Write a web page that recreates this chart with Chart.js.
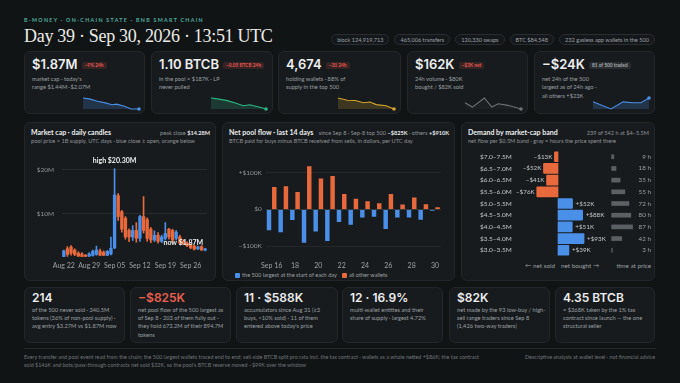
<!DOCTYPE html>
<html>
<head>
<meta charset="utf-8">
<script src="https://cdn.jsdelivr.net/npm/chart.js@4.4.1/dist/chart.umd.min.js"></script>
<style>
  body { margin: 0; background: #111415; font-family: Lato, sans-serif; color: #d9dcde; }
  #page { position: relative; width: 680px; height: 383px; overflow: hidden; }
  .abs { position: absolute; white-space: nowrap; }
  .box { position: absolute; background: #181b1d; border: 1px solid #23272a; border-radius: 6px; box-sizing: border-box; }
  .kicker { left: 24px; top: 17px; font: 700 5.3px/7px Lato; letter-spacing: 1.3px; color: #4fae9f; }
  .title { left: 24px; top: 26px; font: 18px/20px "Liberation Serif", serif; letter-spacing: -0.3px; color: #ecebe7; }
  .pills { right: 25px; top: 34px; display: flex; gap: 5px; }
  .pill { border: 1px solid #2a2e31; border-radius: 6px; font: 5.6px/9px Lato; color: #9aa0a4; padding: 0 5px; background: #15181a; }
  .kpi .v { position: absolute; left: 7px; top: 6px; font: 600 13px/13px Inter; color: #eceeef; white-space: nowrap; }
  .badge { display: inline-block; vertical-align: 2px; margin-left: 4px; font: 700 4.8px/7px Lato; padding: 0 3px; border-radius: 2px; color: #e2564f; background: rgba(226,86,79,0.15); }
  .badge.gray { color: #a3a8ac; background: #2a2e31; }
  .kpi .c, .bc .c { position: absolute; left: 7px; font: 5.7px/8.4px Lato; color: #9ba0a4; white-space: nowrap; }
  .kpi .c { top: 23px; }
  .bc .v { position: absolute; left: 7px; top: 4px; font: 600 12px/12px Inter; color: #eceeef; white-space: nowrap; }
  .bc .c { top: 18px; line-height: 8.2px; }
  .red { color: #e8604f !important; }
  .ptitle { position: absolute; left: 6px; top: 4.5px; font: 700 7px/9px Lato; color: #eceeef; white-space: nowrap; }
  .pright { position: absolute; right: 5px; top: 5px; font: 5.6px/9px Lato; color: #8f9498; white-space: nowrap; }
  .pright b { color: #e6e8ea; }
  .psub { position: absolute; left: 6px; top: 14px; font: 5.6px/8px Lato; color: #8f9498; white-space: nowrap; }
  canvas { position: absolute; }
  .leg { font: 5.6px/8px Lato; color: #9ba0a4; }
  .sw { display: inline-block; width: 5px; height: 5px; border-radius: 1px; margin-right: 2px; vertical-align: -0.5px; }
  .small { font: 6.3px/8px Lato; color: #9ba0a4; }
  .foot { font: 5.4px/8.4px Lato; color: #6f7478; }
</style>
</head>
<body>
<div id="page">
  <div class="abs kicker">B-MONEY · ON-CHAIN STATE · BNB SMART CHAIN</div>
  <div class="abs title">Day 39 · Sep 30, 2026 · 13:51 UTC</div>
  <div class="abs pills">
    <div class="pill">block 124,919,713</div>
    <div class="pill">465,006 transfers</div>
    <div class="pill">120,330 swaps</div>
    <div class="pill">BTC $84,548</div>
    <div class="pill">232 gasless app wallets in the 500</div>
  </div>

  <!-- KPI row -->
  <div class="box kpi" style="left:24px;top:51px;width:121px;height:63px">
    <div class="v">$1.87M<span class="badge">−9% 24h</span></div>
    <div class="c">market cap · today's<br>range $1.44M–$2.07M</div>
  </div>
  <div class="box kpi" style="left:151px;top:51px;width:122px;height:63px">
    <div class="v">1.10 BTCB<span class="badge">−0.05 BTCB 24h</span></div>
    <div class="c">in the pool ≈ $187K · LP<br>never pulled</div>
  </div>
  <div class="box kpi" style="left:278px;top:51px;width:123px;height:63px">
    <div class="v">4,674<span class="badge">−30 24h</span></div>
    <div class="c">holding wallets · 88% of<br>supply in the top 500</div>
  </div>
  <div class="box kpi" style="left:407px;top:51px;width:121px;height:63px">
    <div class="v">$162K<span class="badge">−$3K net</span></div>
    <div class="c">24h volume · $80K<br>bought / $82K sold</div>
  </div>
  <div class="box kpi" style="left:534px;top:51px;width:121px;height:63px">
    <div class="v">−$24K<span class="badge gray">81 of 500 traded</span></div>
    <div class="c">net 24h of the 500<br>largest as of 24h ago ·<br>all others +$23K</div>
  </div>

  <!-- middle panels -->
  <div class="box" style="left:24px;top:122px;width:192px;height:159px">
    <div class="ptitle">Market cap · daily candles</div>
    <div class="pright">peak close <b>$14.28M</b></div>
    <div class="psub">pool price × 1B supply, UTC days · blue close ≥ open, orange below</div>
  </div>
  <div class="box" style="left:222px;top:122px;width:233px;height:159px">
    <div class="ptitle">Net pool flow · last 14 days</div>
    <div class="pright">since Sep 8 · Sep-8 top 500 <b>−$825K</b> · others <b>+$910K</b></div>
    <div class="psub">BTCB paid for buys minus BTCB received from sells, in dollars, per UTC day</div>
    <div class="abs leg" style="left:12px;top:148px"><span class="sw" style="background:#4a8fe8"></span>the 500 largest at the start of each day</div>
    <div class="abs leg" style="left:119px;top:148px"><span class="sw" style="background:#e8693c"></span>all other wallets</div>
  </div>
  <div class="box" style="left:461px;top:122px;width:194px;height:159px">
    <div class="ptitle">Demand by market-cap band</div>
    <div class="pright">239 of 542 h at $4–5.5M</div>
    <div class="psub">net flow per $0.5M band · gray = hours the price spent there</div>
  </div>
  <div class="abs small" style="right:125px;top:261.5px">← net sold</div>
  <div class="abs small" style="left:561px;top:261.5px">net bought →</div>
  <div class="abs small" style="right:29px;top:261.5px">time at price</div>

  <!-- bottom cards -->
  <div class="box bc" style="left:24px;top:287px;width:101px;height:56px">
    <div class="v">214</div>
    <div class="c">of the 500 never sold · 340.5M<br>tokens (36% of non-pool supply) ·<br>avg entry $3.27M vs $1.87M now</div>
  </div>
  <div class="box bc" style="left:130px;top:287px;width:101px;height:56px">
    <div class="v red">−$825K</div>
    <div class="c">net pool flow of the 500 largest as<br>of Sep 8 · 203 of them fully out ·<br>they hold 673.2M of their 894.7M<br>tokens</div>
  </div>
  <div class="box bc" style="left:236px;top:287px;width:102px;height:56px">
    <div class="v">11 · $588K</div>
    <div class="c">accumulators since Aug 31 (≥3<br>buys, &lt;10% sold) · 11 of them<br>entered above today's price</div>
  </div>
  <div class="box bc" style="left:342px;top:287px;width:101px;height:56px">
    <div class="v">12 · 16.9%</div>
    <div class="c">multi-wallet entities and their<br>share of supply · largest 4.72%</div>
  </div>
  <div class="box bc" style="left:449px;top:287px;width:101px;height:56px">
    <div class="v">$82K</div>
    <div class="c">net made by the 93 low-buy / high-<br>sell range traders since Sep 8<br>(1,426 two-way traders)</div>
  </div>
  <div class="box bc" style="left:555px;top:287px;width:100px;height:56px">
    <div class="v">4.35 BTCB</div>
    <div class="c">≈ $368K taken by the 1% tax<br>contract since launch — the one<br>structural seller</div>
  </div>

  <!-- footer -->
  <div class="abs" style="left:24px;top:348px;width:632px;height:1px;background:#24282a"></div>
  <div class="abs foot" style="left:24px;top:353px">Every transfer and pool event read from the chain; the 500 largest wallets traced end to end; sell-side BTCB split pro rata incl. the tax contract · wallets as a whole netted +$86K; the tax contract<br>sold $146K and bots/pass-through contracts net sold $32K, so the pool's BTCB reserve moved −$99K over the window</div>
  <div class="abs foot" style="right:25px;top:353px">Descriptive analysis at wallet level · not financial advice</div>

  <canvas id="spark1" width="64" height="19" style="left:79px;top:94px"></canvas>
  <canvas id="spark2" width="63" height="19" style="left:207px;top:94px"></canvas>
  <canvas id="spark3" width="64" height="19" style="left:334px;top:94px"></canvas>
  <canvas id="spark4" width="64" height="19" style="left:461px;top:94px"></canvas>
  <canvas id="spark5" width="64" height="19" style="left:589px;top:94px"></canvas>
  <canvas id="candles" width="192" height="132" style="left:24px;top:145px"></canvas>
  <canvas id="flow" width="233" height="122" style="left:222px;top:150px"></canvas>
  <canvas id="bands" width="193" height="113" style="left:462px;top:147px"></canvas>
</div>

<script>
// ---- sparklines (hours into the day, value) ----
const spark1Hours = [0, 2.7, 6.2, 9.6, 12.4, 14.4, 17.8, 20.6, 24];
const spark1Cap = [2.07, 2.02, 1.88, 1.79, 1.68, 1.72, 1.60, 1.44, 1.44];
const spark2Hours = [0, 2.8, 7.1, 10.6, 14.1, 16.9, 20.5, 24];
const spark2Btcb = [1.150, 1.146, 1.138, 1.127, 1.115, 1.119, 1.110, 1.100];
const spark3Hours = [0, 4, 7.4, 10.9, 13.7, 16.4, 20.6, 24];
const spark3Holders = [4704, 4698, 4697, 4691, 4693, 4686, 4683, 4674];
const spark4Hours = [0, 3.2, 8.3, 11.5, 14.2, 18.4, 24];
const spark4Volume = [8.9, 4.1, 14.0, 4.1, 7.7, 6.0, 2.0];
const spark5Hours = [0, 7.7, 12.9, 17.1, 20.5, 24];
const spark5Net = [-31, -44, -31, -32.6, -32.6, -24];

// ---- market cap candles, $M ----
const candleDays = ['Aug 22','Aug 23','Aug 24','Aug 25','Aug 26','Aug 27','Aug 28','Aug 29','Aug 30','Aug 31',
  'Sep 01','Sep 02','Sep 03','Sep 04','Sep 05','Sep 06','Sep 07','Sep 08','Sep 09','Sep 10',
  'Sep 11','Sep 12','Sep 13','Sep 14','Sep 15','Sep 16','Sep 17','Sep 18','Sep 19','Sep 20',
  'Sep 21','Sep 22','Sep 23','Sep 24','Sep 25','Sep 26','Sep 27','Sep 28','Sep 29','Sep 30'];
const candleOpen  = [0.1,1.9,2.3,1.6,0.9,0.7,0.4,0.2,0.35,0.6,1.4,1.1,0.4,0.7,2.1,14.1,10.4,8.9,6.1,4.6,6.1,4.3,9.3,8.6,6.4,3.9,5.0,3.6,4.3,6.4,6.1,4.3,4.6,3.6,3.2,2.8,2.5,1.9,2.4,1.6];
const candleHigh  = [1.6,2.4,2.6,1.9,1.2,1.0,0.6,1.0,1.6,2.5,1.8,1.4,1.5,4.6,20.3,14.6,10.7,9.3,6.5,7.2,7.9,9.6,13.9,9.0,6.8,6.0,5.6,5.0,7.9,6.6,6.4,6.1,5.0,4.0,3.5,3.0,2.7,2.5,2.6,2.0];
const candleLow   = [0.05,0.15,0.4,0.3,0.1,0.0,0.05,0.1,0.2,0.4,0.3,0.3,0.3,0.5,1.9,8.4,5.7,4.1,3.5,3.8,3.4,3.6,5.5,3.6,3.3,3.5,3.2,3.3,3.9,4.1,3.4,3.9,2.9,2.8,2.4,1.9,1.6,1.7,1.5,1.4];
const candleClose = [1.4,0.6,0.9,0.6,0.2,0.1,0.15,0.7,1.3,1.6,0.4,0.4,1.3,2.0,14.28,9.3,6.4,4.6,4.6,6.1,4.3,9.3,6.1,4.3,3.9,5.0,3.6,4.6,5.4,4.6,3.9,5.7,3.2,3.0,2.6,2.1,1.8,2.3,1.6,1.87];

// ---- net pool flow, $K per day ----
const flowDays = ['Sep 16','17','18','19','20','21','22','23','24','25','26','27','28','29','30'];
const flowTop500 = [-57,-62,-29,-91,-60,-86,-34,-42,-22,-20,-53,-22,-22,-28,-4];
const flowOthers = [61,63,47,117,84,91,42,29,22,17,42,13,32,14,6];

// ---- demand by band ----
const bands = ['$7.0–7.5M','$6.5–7.0M','$6.0–6.5M','$5.5–6.0M','$5.0–5.5M','$4.5–5.0M','$4.0–4.5M','$3.5–4.0M','$3.0–3.5M'];
const bandFlow = [-13,-52,-41,-76,52,88,51,93,39];
const bandHours = [9,18,35,55,72,80,87,42,3];

const BLUE = '#4a8fe8', ORANGE = '#e8693c';
Chart.defaults.font.family = 'Lato';
Chart.defaults.color = '#9ba0a4';
Chart.defaults.animation = false;
Chart.defaults.responsive = false;
Chart.defaults.plugins.legend.display = false;
Chart.defaults.plugins.tooltip.enabled = false;

function spark(id, hours, values, color, fill) {
  const n = values.length;
  new Chart(document.getElementById(id), {
    type: 'line',
    data: { datasets: [{
      data: hours.map((h, i) => ({ x: h, y: values[i] })),
      borderColor: color, borderWidth: 1.1, backgroundColor: fill, fill: 'start',
      pointRadius: ctx => ctx.dataIndex === n - 1 ? 1.8 : 0,
      pointBackgroundColor: color, pointBorderWidth: 0, tension: 0, clip: false
    }] },
    options: {
      layout: { padding: { left: 3, right: 3, top: 2.7, bottom: 1.3 } },
      scales: {
        x: { type: 'linear', display: false, min: 0, max: 24 },
        y: { display: false, min: Math.min(...values), max: Math.max(...values) }
      }
    }
  });
}
spark('spark1', spark1Hours, spark1Cap, BLUE, 'rgba(74,143,232,0.22)');
spark('spark2', spark2Hours, spark2Btcb, '#2bb784', 'rgba(43,183,132,0.2)');
spark('spark3', spark3Hours, spark3Holders, '#d4a72c', 'rgba(212,167,44,0.2)');
spark('spark4', spark4Hours, spark4Volume, '#6c7176', 'rgba(108,113,118,0.06)');
spark('spark5', spark5Hours, spark5Net, BLUE, 'rgba(74,143,232,0.22)');

// ---- candles ----
const candleColors = candleOpen.map((o, i) => candleClose[i] >= o ? BLUE : ORANGE);
const candleNotes = {
  id: 'candleNotes',
  afterDatasetsDraw(chart) {
    const { ctx, scales: { x, y } } = chart;
    const peak = candleHigh.indexOf(Math.max(...candleHigh));
    const last = candleClose.length - 1;
    ctx.save();
    ctx.fillStyle = '#eceeef';
    ctx.font = '700 7px Lato';
    ctx.textBaseline = 'middle';
    ctx.textAlign = 'center';
    ctx.fillText('high $' + candleHigh[peak].toFixed(2) + 'M', x.getPixelForValue(peak), y.getPixelForValue(candleHigh[peak]) - 7.5);
    ctx.textAlign = 'right';
    ctx.fillText('now $' + candleClose[last].toFixed(2) + 'M', x.getPixelForValue(last) - 2, y.getPixelForValue(candleClose[last]) - 6.5);
    ctx.restore();
  }
};
new Chart(document.getElementById('candles'), {
  type: 'bar',
  data: {
    labels: candleDays,
    datasets: [
      { data: candleOpen.map((o, i) => [o, candleClose[i]]), backgroundColor: candleColors, barThickness: 2.7, grouped: false, minBarLength: 1 },
      { data: candleLow.map((l, i) => [l, candleHigh[i]]), backgroundColor: candleColors, barThickness: 1, grouped: false }
    ]
  },
  options: {
    layout: { padding: { top: 4.3, right: 9, left: 0, bottom: 0 } },
    scales: {
      x: {
        grid: { display: false, drawTicks: false }, border: { display: false },
        ticks: { autoSkip: false, maxRotation: 0, padding: 4.5, color: '#9ba0a4', font: { size: 7 },
          callback: (v, i) => i % 7 === 0 ? candleDays[i] : '' },
        afterFit: s => { s.height = 20; }
      },
      y: {
        min: 0, max: 23,
        afterBuildTicks: s => { s.ticks = [0, 10, 20].map(v => ({ value: v })); },
        grid: { drawTicks: false, color: c => (c.tick && c.tick.value === 0) ? 'rgba(0,0,0,0)' : 'rgba(255,255,255,0.07)' },
        border: { display: false },
        ticks: { padding: 8, font: { size: 6.5 }, color: '#8f9498', callback: v => v === 0 ? '' : '$' + v + 'M' },
        afterFit: s => { s.width = 38; }
      }
    }
  },
  plugins: [candleNotes]
});

// ---- net pool flow ----
new Chart(document.getElementById('flow'), {
  type: 'bar',
  data: {
    labels: flowDays,
    datasets: [
      { data: flowTop500, backgroundColor: BLUE, categoryPercentage: 0.9, barPercentage: 0.85 },
      { data: flowOthers, backgroundColor: ORANGE, categoryPercentage: 0.9, barPercentage: 0.85 }
    ]
  },
  options: {
    layout: { padding: { top: 5.6, right: 14.2, left: 0, bottom: 0 } },
    scales: {
      x: {
        grid: { display: false, drawTicks: false }, border: { display: false },
        ticks: { autoSkip: false, maxRotation: 0, padding: 4.5, color: '#9ba0a4', font: { size: 7 },
          callback: (v, i) => i % 2 === 0 ? flowDays[i] : '' },
        afterFit: s => { s.height = 14.8; }
      },
      y: {
        min: -130, max: 140,
        afterBuildTicks: s => { s.ticks = [-100, 0, 100].map(v => ({ value: v })); },
        grid: { drawTicks: false, color: c => (c.tick && c.tick.value === 0) ? 'rgba(255,255,255,0.13)' : 'rgba(255,255,255,0.06)' },
        border: { display: false },
        ticks: { padding: 4, font: { size: 6.5 }, color: '#8f9498',
          callback: v => v === 0 ? '$0' : (v > 0 ? '+' : '−') + '$' + Math.abs(v) + 'K' },
        afterFit: s => { s.width = 43.8; }
      }
    }
  }
});

// ---- demand by market-cap band ----
const bandLabels = {
  id: 'bandLabels',
  afterDatasetsDraw(chart) {
    const { ctx, chartArea } = chart;
    const flowMeta = chart.getDatasetMeta(0);
    const hourMeta = chart.getDatasetMeta(1);
    ctx.save();
    ctx.font = '6.3px Lato';
    ctx.fillStyle = '#c3c7ca';
    ctx.textBaseline = 'middle';
    flowMeta.data.forEach((bar, i) => {
      const v = bandFlow[i];
      if (v < 0) { ctx.textAlign = 'right'; ctx.fillText('−$' + Math.abs(v) + 'K', bar.x - 2, bar.y); }
      else { ctx.textAlign = 'left'; ctx.fillText('+$' + v + 'K', bar.x + 3, bar.y); }
    });
    ctx.fillStyle = '#9ba0a4';
    ctx.textAlign = 'right';
    hourMeta.data.forEach((bar, i) => { ctx.fillText(bandHours[i] + ' h', chartArea.right, bar.y); });
    ctx.restore();
  }
};
new Chart(document.getElementById('bands'), {
  type: 'bar',
  data: {
    labels: bands,
    datasets: [
      { data: bandFlow, xAxisID: 'x', backgroundColor: bandFlow.map(v => v < 0 ? ORANGE : BLUE), barThickness: 10, grouped: false, borderRadius: 1 },
      { data: bandHours, xAxisID: 'x2', backgroundColor: '#5b6064', barThickness: 4, grouped: false }
    ]
  },
  options: {
    indexAxis: 'y',
    layout: { padding: { top: 0.5, right: 4, left: 18, bottom: 0 } },
    scales: {
      x: { display: false, min: -135.7, max: 332 },
      x2: { display: false, min: -382, max: 164 },
      y: {
        grid: { display: false }, border: { display: false },
        ticks: { crossAlign: 'far', padding: 0, color: '#c3c7ca', font: { size: 6.5 } },
        afterFit: s => { s.width = 40; }
      }
    }
  },
  plugins: [bandLabels]
});
</script>
</body>
</html>
